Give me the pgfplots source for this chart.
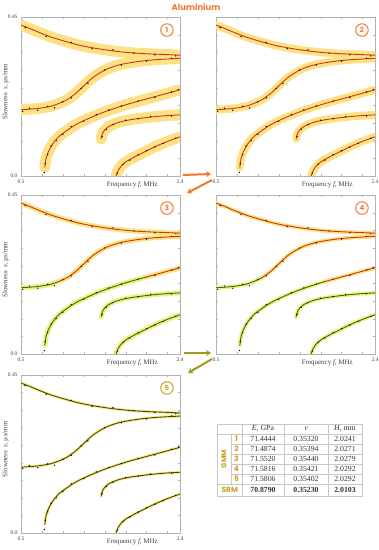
\documentclass[border=0pt]{standalone}
\usepackage{pgfplots}
\pgfplotsset{compat=1.18}
\usepackage{pgfplotstable}
\usepackage{fontspec}
\setmainfont{Liberation Serif}
\newfontfamily\pop{Poppins}
\usetikzlibrary{arrows.meta}

\definecolor{band}{RGB}{252,226,132}
\definecolor{bandg}{RGB}{234,243,128}
\definecolor{band5}{RGB}{246,238,115}
\definecolor{redl}{RGB}{200,55,20}
\definecolor{greenl}{RGB}{78,92,28}
\definecolor{olive5}{RGB}{70,70,38}
\definecolor{orng}{RGB}{240,122,40}
\definecolor{gold}{RGB}{205,160,30}
\definecolor{arrg}{RGB}{165,150,30}
\definecolor{gridc}{RGB}{200,200,200}
\definecolor{dotr}{RGB}{170,90,60}

\pgfplotstableread{
f s
0.5 0.427
0.6 0.418
0.7 0.408
0.85 0.394
1.0 0.383
1.2 0.370
1.4 0.361
1.6 0.354
1.8 0.349
2.0 0.346
2.2 0.344
2.4 0.342
}\curveA
\pgfplotstableread{
f s
0.5 0.1875
0.7 0.191
0.85 0.197
0.95 0.205
1.05 0.216
1.15 0.233
1.25 0.255
1.35 0.277
1.45 0.293
1.55 0.305
1.7 0.316
1.9 0.324
2.1 0.329
2.4 0.333
}\curveB
\pgfplotstableread{
f s
0.785 0.025
0.80 0.050
0.83 0.070
0.88 0.091
0.95 0.111
1.05 0.129
1.16 0.146
1.3 0.162
1.45 0.177
1.6 0.190
1.8 0.205
2.0 0.218
2.2 0.231
2.4 0.244
}\curveC
\pgfplotstableread{
f s
1.458 0.105
1.47 0.118
1.50 0.130
1.55 0.140
1.62 0.148
1.7 0.154
1.8 0.159
1.95 0.164
2.1 0.168
2.25 0.171
2.4 0.173
}\curveD
\pgfplotstableread{
f s
1.636 0.0
1.66 0.015
1.70 0.029
1.76 0.041
1.85 0.053
1.95 0.065
2.05 0.077
2.15 0.088
2.25 0.098
2.4 0.111
}\curveE
\pgfplotstableread{
f s
0.55 0.420
0.8 0.395
1.1 0.378
1.35 0.360
1.6 0.357
1.85 0.348
2.1 0.343
2.35 0.340
0.52 0.183
0.6 0.192
0.7 0.186
0.82 0.197
0.9 0.193
1.0 0.210
1.1 0.221
1.22 0.248
1.3 0.262
1.5 0.300
1.7 0.314
2.0 0.325
2.3 0.333
0.79 0.035
0.82 0.060
0.86 0.085
0.92 0.100
1.0 0.118
1.1 0.140
1.25 0.155
1.4 0.174
1.55 0.187
1.7 0.198
1.9 0.212
2.1 0.222
2.3 0.238
2.38 0.245
1.47 0.112
1.52 0.132
1.6 0.145
1.75 0.158
1.9 0.162
2.05 0.168
2.3 0.170
1.65 0.008
1.72 0.033
1.8 0.045
1.9 0.060
2.0 0.072
2.1 0.082
2.2 0.092
2.35 0.107
0.78 0.010
}\scat

\pgfplotsset{
  panel/.style={
    scale only axis, width=159bp, height=159bp,
    xmin=0.5, xmax=2.4, ymin=0, ymax=0.45,
    anchor=north west,
    axis line style={gray!60},
    tick style={gray!60},
    major tick length=2.5bp, minor tick length=1.8bp,
    xtick={0.5,2.4}, xticklabels={0.5,2.4},
    ytick={0,0.45},
    minor xtick={0.75,1,1.25,1.5,1.75,2,2.25},
    minor ytick={0.05,0.1,0.15,0.2,0.25,0.3,0.35,0.4},
    /pgf/number format/assume math mode=true,
    tick label style={font=\fontsize{5.5}{6}\selectfont, text=black!75},
    xtick align=inside, ytick align=inside,
    xlabel={Frequency \textit{f}, MHz},
    xlabel style={font=\fontsize{7}{7}\selectfont, text=black!75, at={(axis description cs:0.70,0)}, anchor=north, yshift=-2.5bp},
  },
  leftp/.style={panel, yticklabels={0.0,0.45},
    ylabel={Slowness\ \ \textit{s}, µs/mm},
    ylabel style={font=\fontsize{7}{7}\selectfont, text=black!75, at={(axis description cs:-0.055,0.53)}, anchor=south}},
  rightp/.style={panel, yticklabels={}},
  bnd/.style={draw=#1, line cap=round, line join=round, smooth},
  crv/.style={draw=#1, line cap=round, smooth},
}

\newcommand{\cnum}[2]{\node[circle, draw=#1, line width=1bp, text=#1, minimum size=12.5bp, inner sep=0pt, font=\pop\bfseries\fontsize{7}{7}\selectfont] at (rel axis cs:0.918,0.918) {#2};}

\newcommand{\drawall}[5]{%
  \addplot[bnd=#1, line width=#2] table {\curveA};
  \addplot[bnd=#1, line width=#2] table {\curveB};
  \addplot[bnd=#1, line width=#2] table {\curveC};
  \addplot[bnd=#1, line width=#2] table {\curveD};
  \addplot[bnd=#1, line width=#2] table {\curveE};
  \addplot[only marks, mark=*, mark size=0.45bp, mark options={draw=none, fill=#5}] table {\scat};
  \addplot[crv=#3, line width=#4] table {\curveA};
  \addplot[crv=#3, line width=#4] table {\curveB};
  \addplot[crv=#3, line width=#4] table {\curveC};
  \addplot[crv=#3, line width=#4] table {\curveD};
  \addplot[crv=#3, line width=#4] table {\curveE};
}

\begin{document}
\begin{tikzpicture}
\useasboundingbox (0,0) rectangle (379bp,-550bp);
\node[text=orng, font=\pop\bfseries\fontsize{8.5}{9}\selectfont] at (196bp,-7bp) {Aluminium};

% Panel 1
\begin{axis}[leftp, at={(21bp,-17bp)}]
\drawall{band}{11bp}{redl}{0.9bp}{dotr}
\cnum{orng}{1}
\end{axis}

% Panel 2
\begin{axis}[rightp, at={(216bp,-17bp)}]
\drawall{band}{8bp}{redl}{0.9bp}{dotr}
\cnum{orng}{2}
\end{axis}

% Panel 3
\begin{axis}[leftp, at={(21bp,-195bp)}]
\addplot[bnd=band, line width=5bp] table {\curveA};
\addplot[bnd=bandg, line width=5bp, restrict x to domain=0.5:0.95] table {\curveB};
\addplot[bnd=band, line width=5bp, restrict x to domain=0.95:2.4] table {\curveB};
\addplot[bnd=bandg, line width=5bp, restrict x to domain=0.5:2.0] table {\curveC};
\addplot[bnd=band, line width=5bp, restrict x to domain=2.0:2.4] table {\curveC};
\addplot[bnd=bandg, line width=5bp] table {\curveD};
\addplot[bnd=bandg, line width=5bp] table {\curveE};
\addplot[only marks, mark=*, mark size=0.4bp, mark options={draw=none, fill=black!45}] table {\scat};
\addplot[crv=redl, line width=0.9bp] table {\curveA};
\addplot[crv=greenl, line width=0.9bp, restrict x to domain=0.5:0.95] table {\curveB};
\addplot[crv=redl, line width=0.9bp, restrict x to domain=0.95:2.4] table {\curveB};
\addplot[crv=greenl, line width=0.9bp, restrict x to domain=0.5:2.0] table {\curveC};
\addplot[crv=redl, line width=0.9bp, restrict x to domain=2.0:2.4] table {\curveC};
\addplot[crv=greenl, line width=0.9bp] table {\curveD};
\addplot[crv=greenl, line width=0.9bp] table {\curveE};
\cnum{orng}{3}
\end{axis}

% Panel 4
\begin{axis}[rightp, at={(216bp,-195bp)}]
\addplot[bnd=band, line width=4bp] table {\curveA};
\addplot[bnd=bandg, line width=4bp, restrict x to domain=0.5:1.05] table {\curveB};
\addplot[bnd=band, line width=4bp, restrict x to domain=1.05:2.4] table {\curveB};
\addplot[bnd=bandg, line width=4bp, restrict x to domain=0.5:1.8] table {\curveC};
\addplot[bnd=band, line width=4bp, restrict x to domain=1.8:2.4] table {\curveC};
\addplot[bnd=bandg, line width=4bp] table {\curveD};
\addplot[bnd=bandg, line width=4bp] table {\curveE};
\addplot[only marks, mark=*, mark size=0.4bp, mark options={draw=none, fill=black!45}] table {\scat};
\addplot[crv=redl, line width=0.9bp] table {\curveA};
\addplot[crv=greenl, line width=0.9bp, restrict x to domain=0.5:1.05] table {\curveB};
\addplot[crv=redl, line width=0.9bp, restrict x to domain=1.05:2.4] table {\curveB};
\addplot[crv=greenl, line width=0.9bp, restrict x to domain=0.5:1.8] table {\curveC};
\addplot[crv=redl, line width=0.9bp, restrict x to domain=1.8:2.4] table {\curveC};
\addplot[crv=greenl, line width=0.9bp] table {\curveD};
\addplot[crv=greenl, line width=0.9bp] table {\curveE};
\cnum{orng}{4}
\end{axis}

% Panel 5
\begin{axis}[leftp, at={(21bp,-375bp)}, height=158bp]
\drawall{band5}{2.8bp}{olive5}{0.9bp}{black!45}
\cnum{gold}{5}
\end{axis}

% arrows
\draw[orng, line width=2bp, -{Stealth[length=5bp,width=6bp]}] (183bp,-175bp) -- (211bp,-174bp);
\draw[orng, line width=2bp, -{Stealth[length=5bp,width=6bp]}] (212bp,-180bp) -- (187bp,-193bp);
\draw[arrg, line width=2bp, -{Stealth[length=5bp,width=6bp]}] (184bp,-353bp) -- (211bp,-353bp);
\draw[arrg, line width=2bp, -{Stealth[length=5bp,width=6bp]}] (212bp,-359bp) -- (188bp,-373bp);

% table
\begin{scope}[gridc, line width=0.4bp]
\draw (217.3bp,-424bp) rectangle (362.3bp,-495.7bp);
\draw (217.3bp,-434bp) -- (362.3bp,-434bp);
\draw (217.3bp,-484bp) -- (362.3bp,-484bp);
\draw (230.7bp,-444bp) -- (362.3bp,-444bp);
\draw (230.7bp,-454bp) -- (362.3bp,-454bp);
\draw (230.7bp,-464bp) -- (362.3bp,-464bp);
\draw (230.7bp,-474bp) -- (362.3bp,-474bp);
\draw (230.7bp,-434bp) -- (230.7bp,-484bp);
\draw (242.3bp,-424bp) -- (242.3bp,-495.7bp);
\draw (284bp,-424bp) -- (284bp,-495.7bp);
\draw (327.7bp,-424bp) -- (327.7bp,-495.7bp);
\end{scope}
\begin{scope}[every node/.style={font=\fontsize{7.8}{8}\selectfont, text=black!80, inner sep=0pt}]
\node at (263bp,-429bp) {\textit{E}, GPa};
\node at (306bp,-429bp) {\textit{ν}};
\node at (345bp,-429bp) {\textit{H}, mm};
\node[rotate=90, text=gold, font=\pop\bfseries\fontsize{7}{7}\selectfont] at (224bp,-459bp) {GMM};
\node[text=gold, font=\pop\bfseries\fontsize{7.5}{7}\selectfont] at (236.5bp,-439bp) {1};
\node[text=gold, font=\pop\bfseries\fontsize{7.5}{7}\selectfont] at (236.5bp,-449bp) {2};
\node[text=gold, font=\pop\bfseries\fontsize{7.5}{7}\selectfont] at (236.5bp,-459bp) {3};
\node[text=gold, font=\pop\bfseries\fontsize{7.5}{7}\selectfont] at (236.5bp,-469bp) {4};
\node[text=gold, font=\pop\bfseries\fontsize{7.5}{7}\selectfont] at (236.5bp,-479bp) {5};
\node at (263bp,-439bp) {71.4444};
\node at (306bp,-439bp) {0.35320};
\node at (345bp,-439bp) {2.0241};
\node at (263bp,-449bp) {71.4874};
\node at (306bp,-449bp) {0.35394};
\node at (345bp,-449bp) {2.0271};
\node at (263bp,-459bp) {71.5520};
\node at (306bp,-459bp) {0.35440};
\node at (345bp,-459bp) {2.0279};
\node at (263bp,-469bp) {71.5816};
\node at (306bp,-469bp) {0.35421};
\node at (345bp,-469bp) {2.0292};
\node at (263bp,-479bp) {71.5806};
\node at (306bp,-479bp) {0.35402};
\node at (345bp,-479bp) {2.0292};
\node[text=gold, font=\pop\bfseries\fontsize{7.5}{7}\selectfont] at (229.8bp,-489.8bp) {SRM};
\node[font=\bfseries\fontsize{7.8}{8}\selectfont] at (263bp,-489.8bp) {70.8790};
\node[font=\bfseries\fontsize{7.8}{8}\selectfont] at (306bp,-489.8bp) {0.35230};
\node[font=\bfseries\fontsize{7.8}{8}\selectfont] at (345bp,-489.8bp) {2.0103};
\end{scope}
\end{tikzpicture}
\end{document}
